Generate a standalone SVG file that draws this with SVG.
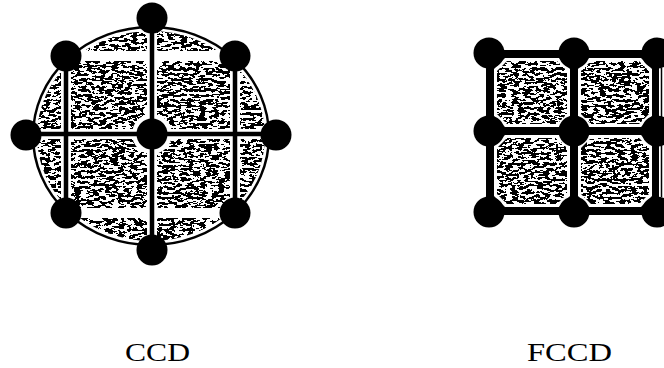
<svg xmlns="http://www.w3.org/2000/svg" width="664" height="368" viewBox="0 0 664 368">
<style>
.tex{fill:#fff;filter:url(#noise)}
.gap{stroke:#fff;stroke-width:10;fill:none}
.bl{stroke:#000;stroke-width:4.5;fill:none}
.dot{fill:#000}
.lbl{font-family:"Liberation Serif","Times New Roman",serif;font-size:25px;fill:#000}
</style>
<defs>
<filter id="noise" x="0" y="0" width="100%" height="100%" color-interpolation-filters="sRGB">
<feTurbulence type="fractalNoise" baseFrequency="0.16 0.38" numOctaves="3" seed="11" result="n"/>
<feColorMatrix in="n" type="matrix" values="0 0 0 0 0  0 0 0 0 0  0 0 0 0 0  1 0 0 0 0" result="r"/>
<feComponentTransfer in="r" result="t"><feFuncA type="discrete" tableValues="0 1"/></feComponentTransfer>
<feComposite in="t" in2="SourceAlpha" operator="in" result="c"/>
<feMerge><feMergeNode in="SourceGraphic"/><feMergeNode in="c"/></feMerge>
</filter>
</defs>
<rect width="664" height="368" fill="#fff"/>
<g id="ccd">
<ellipse cx="151" cy="136" rx="118" ry="109" fill="#fff"/>
<ellipse class="tex" cx="151" cy="136" rx="114" ry="105"/>
<g class="gap">
<line x1="66" y1="20" x2="66" y2="252"/>
<line x1="152" y1="20" x2="152" y2="252"/>
<line x1="235" y1="20" x2="235" y2="252"/>
<line x1="28" y1="56" x2="274" y2="56"/>
<line x1="28" y1="134" x2="274" y2="134"/>
<line x1="28" y1="213" x2="274" y2="213"/>
</g>
<g fill="#fff">
<circle cx="152" cy="134" r="20"/>
<circle cx="66" cy="134" r="8"/>
<circle cx="235" cy="134" r="8"/>
<circle cx="152" cy="56" r="8"/>
<circle cx="152" cy="213" r="8"/>
</g>
<ellipse cx="151" cy="136" rx="118" ry="109" fill="none" stroke="#000" stroke-width="2.5"/>
</g>
<g id="connectors">
<g class="bl">
<line x1="66" y1="56" x2="66" y2="213"/>
<line x1="235" y1="56" x2="235" y2="213"/>
<line x1="152" y1="18" x2="152" y2="250"/>
<line x1="26" y1="134" x2="276" y2="134"/>
</g>
</g>
<g id="ccd-dots" class="dot">
<circle cx="152" cy="18" r="15.5"/>
<circle cx="66" cy="56" r="15.5"/>
<circle cx="235" cy="56" r="15.5"/>
<circle cx="26" cy="135" r="15.5"/>
<circle cx="152" cy="134" r="15.5"/>
<circle cx="276" cy="135" r="15.5"/>
<circle cx="66" cy="213" r="15.5"/>
<circle cx="235" cy="213" r="15.5"/>
<circle cx="152" cy="250" r="15.5"/>
</g>
<g id="fccd">
<rect x="486" y="50" width="174" height="165" fill="#000"/>
<rect x="659" y="58" width="5" height="149" fill="#fff"/>
<line x1="661.5" y1="68" x2="661.5" y2="117" stroke="#000" stroke-width="1.5"/>
<line x1="661.5" y1="145" x2="661.5" y2="197" stroke="#000" stroke-width="1.5"/>
<g fill="#fff">
<polygon points="505,58 559,58 570,69 570,116 559,127 505,127 494,116 494,69"/>
<polygon points="589,58 641,58 652,69 652,116 641,127 589,127 578,116 578,69"/>
<polygon points="505,135 559,135 570,146 570,196 559,207 505,207 494,196 494,146"/>
<polygon points="589,135 641,135 652,146 652,196 641,207 589,207 578,196 578,146"/>
</g>
<polygon class="tex" points="507,61 557,61 567,71 567,114 557,124 507,124 497,114 497,71"/>
<polygon class="tex" points="591,61 639,61 649,71 649,114 639,124 591,124 581,114 581,71"/>
<polygon class="tex" points="507,138 557,138 567,148 567,194 557,204 507,204 497,194 497,148"/>
<polygon class="tex" points="591,138 639,138 649,148 649,194 639,204 591,204 581,194 581,148"/>
</g>
<g id="fccd-dots" class="dot">
<circle cx="489" cy="53" r="15.5"/>
<circle cx="574" cy="53" r="15.5"/>
<circle cx="657" cy="53" r="15.5"/>
<circle cx="489" cy="131" r="15.5"/>
<circle cx="574" cy="131" r="15.5"/>
<circle cx="657" cy="131" r="15.5"/>
<circle cx="489" cy="212" r="15.5"/>
<circle cx="574" cy="212" r="15.5"/>
<circle cx="657" cy="212" r="15.5"/>
</g>
<g id="labels">
<text class="lbl" x="125" y="361" textLength="65" lengthAdjust="spacingAndGlyphs">CCD</text>
<text class="lbl" x="527" y="361" textLength="85" lengthAdjust="spacingAndGlyphs">FCCD</text>
</g>
</svg>
